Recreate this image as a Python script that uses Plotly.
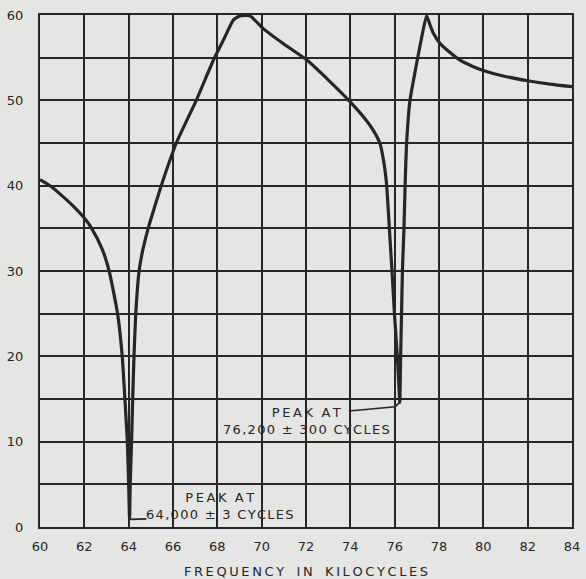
import plotly.graph_objects as go

# Frequency (kc) and response values
freq = [60.0, 60.5, 61.0, 61.5, 62.0, 62.33, 62.8, 63.12, 63.5, 63.71, 63.83, 63.94, 64.0, 64.04,
        64.07, 64.13, 64.18, 64.24, 64.32, 64.47, 64.64, 64.88, 65.17, 65.47, 66.15, 67.05, 67.82,
        68.3, 68.72, 69.02, 69.47, 70.07, 71.0, 72.0, 73.08, 73.93, 74.58, 75.03, 75.34, 75.52, 75.64,
        75.76, 75.88, 75.99, 76.12, 76.2, 76.23, 76.27, 76.31, 76.35, 76.42, 76.47, 76.54, 76.69,
        76.86, 77.04, 77.25, 77.44, 77.6, 77.74, 78.04, 78.5, 78.95, 79.5, 80.0, 81.0, 82.0, 83.0, 84.0]
level = [40.7, 39.9, 38.8, 37.6, 36.2, 35.0, 32.6, 30.0, 25.0, 20.0, 15.0, 10.0, 5.0, 1.0,
         5.0, 10.0, 15.0, 20.0, 25.0, 30.0, 32.5, 35.0, 37.5, 40.0, 45.0, 50.0, 54.7,
         57.2, 59.4, 59.9, 59.9, 58.4, 56.6, 54.8, 52.2, 50.0, 48.1, 46.5, 44.9, 42.6, 40.0,
         35.0, 30.0, 25.0, 20.0, 16.0, 14.6, 20.0, 25.0, 30.0, 35.0, 40.0, 45.0, 50.0,
         52.5, 55.0, 57.8, 59.9, 58.8, 57.9, 56.7, 55.6, 54.7, 54.0, 53.5, 52.8, 52.3, 51.9, 51.6]

# Leader lines from the two peaks to their labels
leader1_x = [64.04, 64.1, 64.8]
leader1_y = [1.0, 0.9, 0.95]
leader2_x = [76.23, 76.02, 73.95]
leader2_y = [14.6, 14.1, 13.6]

peak_labels = [["PEAK AT", "64,000 ± 3 CYCLES"], ["PEAK AT", "76,200 ± 300 CYCLES"]]
label_x = [68.1, 72.0]
label_y = [2.45, 12.45]

x_ticks = list(range(60, 85, 2))
y_ticks = list(range(0, 61, 5))
y_text = [str(v) if v % 10 == 0 else "" for v in y_ticks]


def spaced(s, gap):
    return gap.join(s)


x_title = "   ".join(spaced(w, "\u2009") for w in ["FREQUENCY", "IN", "KILOCYCLES"])

ink = "#262626"
paper = "#e5e5e3"
font = "DejaVu Sans"

fig = go.Figure()
fig.add_trace(go.Scatter(x=freq, y=level, mode="lines",
                         line=dict(color=ink, width=3.2, shape="spline", smoothing=0.5),
                         hoverinfo="skip"))
fig.add_trace(go.Scatter(x=leader1_x, y=leader1_y, mode="lines",
                         line=dict(color=ink, width=1.6), hoverinfo="skip"))
fig.add_trace(go.Scatter(x=leader2_x, y=leader2_y, mode="lines",
                         line=dict(color=ink, width=1.6), hoverinfo="skip"))

for (l1, l2), x, y in zip(peak_labels, label_x, label_y):
    text = "  ".join(spaced(w, "\u2009") for w in l1.split(" ")) + "<br>" + spaced(l2, "\u200a")
    fig.add_annotation(x=x, y=y, text=text, showarrow=False, xref="x", yref="y",
                       font=dict(family=font, size=13, color=ink), align="center")

fig.update_layout(
    width=586, height=579,
    margin=dict(l=40, r=14, t=15, b=52),
    paper_bgcolor=paper, plot_bgcolor=paper,
    showlegend=False,
    xaxis=dict(range=[60, 84], tickvals=x_ticks, ticktext=[str(v) for v in x_ticks],
               showgrid=True, gridcolor=ink, gridwidth=1.6, zeroline=False,
               showline=True, linecolor=ink, linewidth=2, mirror=True,
               ticks="", ticklabelstandoff=6, automargin=False,
               tickfont=dict(family=font, size=13, color=ink),
               title=dict(text=x_title, standoff=14,
                          font=dict(family=font, size=13, color=ink))),
    yaxis=dict(range=[0, 60], tickvals=y_ticks, ticktext=y_text,
               showgrid=True, gridcolor=ink, gridwidth=1.6, zeroline=False,
               showline=True, linecolor=ink, linewidth=2, mirror=True,
               ticks="", ticklabelstandoff=12, automargin=False,
               tickfont=dict(family=font, size=13, color=ink)),
)

fig.write_html(
    "out.html",
    config={"displayModeBar": False},
    post_script="document.body.style.margin='0';document.body.style.background='#e5e5e3';"
                "document.body.style.overflow='hidden';",
)
